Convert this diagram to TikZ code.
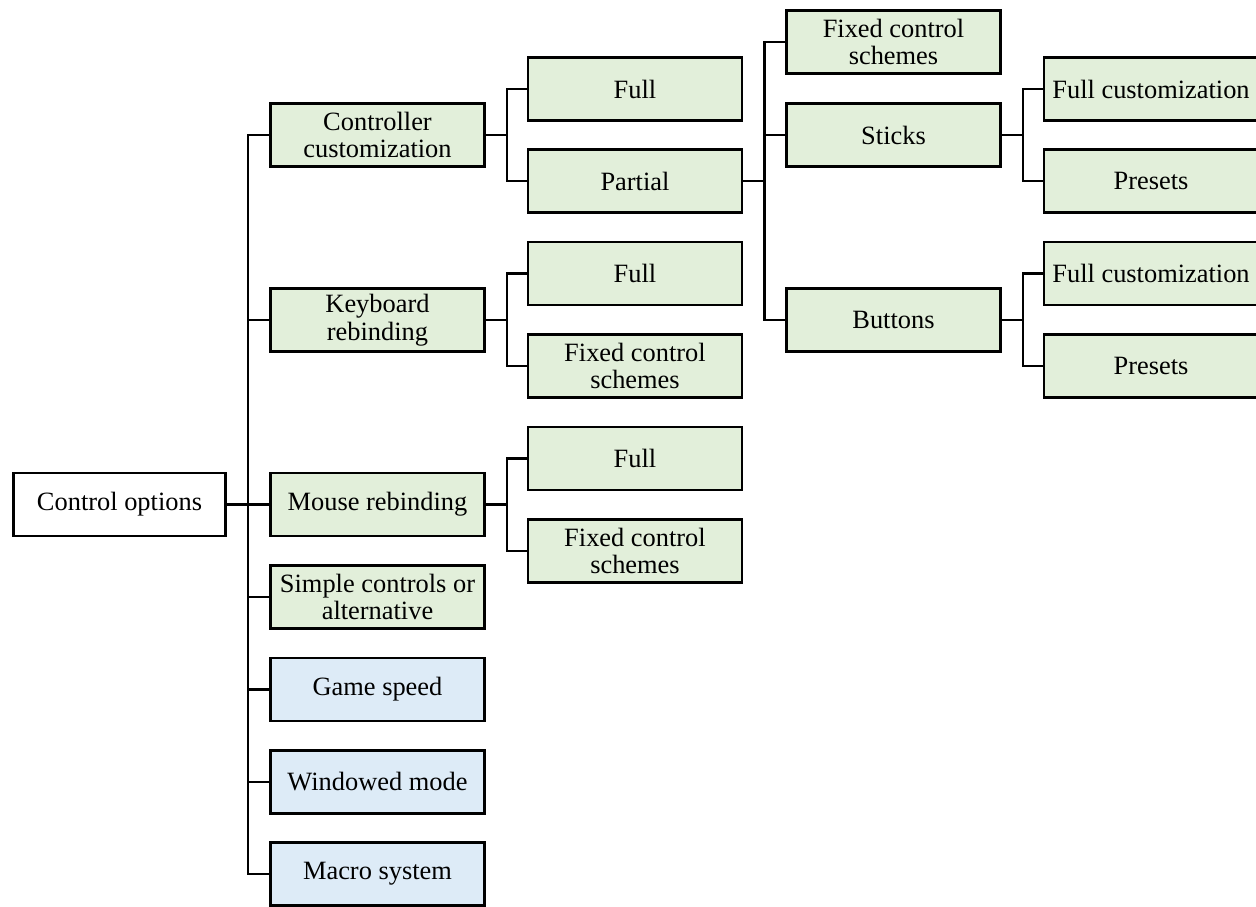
\documentclass[tikz,border=0pt]{standalone}
\usepackage{fontspec}
\setmainfont{Liberation Serif}
\definecolor{leafgreen}{HTML}{E2EFDA}
\definecolor{leafblue}{HTML}{DDEBF7}
\tikzset{
  box/.style={draw=black, line width=2.8pt, minimum width=214pt, minimum height=63pt,
    inner sep=0pt, align=center, font=\fontsize{26.4}{27.5}\selectfont},
  plainbox/.style={box, fill=white},
  greenbox/.style={box, fill=leafgreen},
  bluebox/.style={box, fill=leafblue},
  link/.style={line width=2.8pt, line join=miter}
}
\begin{document}
\begin{tikzpicture}[x=1pt, y=-1pt]
\useasboundingbox (0,0) rectangle (1256,907);

% root
\node[plainbox, minimum width=212pt] (root) at (119.5,504.5) {Control options};

% first level
\node[greenbox] (ctrl)  at (377.5,135) {Controller\\customization};
\node[greenbox] (kbd)   at (377.5,320) {Keyboard\\rebinding};
\node[greenbox] (mouse) at (377.5,504.5) {Mouse rebinding};
\node[greenbox] (simple) at (377.5,597) {Simple controls or\\alternative};
\node[bluebox]  (speed) at (377.5,689.5) {Game speed};
\node[bluebox]  (window) at (377.5,782) {Windowed mode};
\node[bluebox]  (macro) at (377.5,874) {Macro system};

% second level
\node[greenbox] (cfull)    at (635,89)  {Full};
\node[greenbox] (cpartial) at (635,181) {Partial};
\node[greenbox] (kfull)    at (635,273.5) {Full};
\node[greenbox] (kfixed)   at (635,366) {Fixed control\\schemes};
\node[greenbox] (mfull)    at (635,458.5) {Full};
\node[greenbox] (mfixed)   at (635,551) {Fixed control\\schemes};

% third level
\node[greenbox] (pfixed)   at (893.5,42)  {Fixed control\\schemes};
\node[greenbox] (sticks)   at (893.5,135) {Sticks};
\node[greenbox] (buttons)  at (893.5,320) {Buttons};

% fourth level
\node[greenbox] (sfull)    at (1151,89)  {Full customization};
\node[greenbox] (spresets) at (1151,181) {Presets};
\node[greenbox] (bfull)    at (1151,273.5) {Full customization};
\node[greenbox] (bpresets) at (1151,366) {Presets};

% elbow connectors: parent east -> midway vertical -> child west
\foreach \p/\c/\d in {root/ctrl/21, root/kbd/21, root/mouse/21, root/simple/21,
                      root/speed/21, root/window/21, root/macro/21,
                      ctrl/cfull/21, ctrl/cpartial/21,
                      kbd/kfull/21, kbd/kfixed/21,
                      mouse/mfull/21, mouse/mfixed/21,
                      cpartial/pfixed/21, cpartial/sticks/21, cpartial/buttons/21,
                      sticks/sfull/21, sticks/spresets/21,
                      buttons/bfull/21, buttons/bpresets/21}
  \draw[link] (\p.east) -- ++(\d,0) |- (\c.west);
\end{tikzpicture}
\end{document}
